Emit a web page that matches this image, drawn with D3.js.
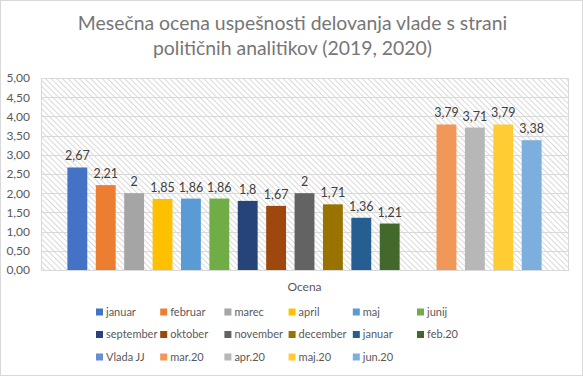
<!DOCTYPE html>
<html lang="sl">
<head>
<meta charset="UTF-8" />
<title>Mesečna ocena</title>
<script src="https://d3js.org/d3.v7.min.js"></script>
<style>
  body { margin: 0; background: #fff; }
  #chart { width: 583px; height: 376px; }
  text { font-family: Lato, "Open Sans", sans-serif; }
</style>
</head>
<body>
<div id="chart"></div>
<script>
// podatki
const seriesNames = ["januar", "februar", "marec", "april", "maj", "junij",
  "september", "oktober", "november", "december", "januar ", "feb.20",
  "Vlada JJ", "mar.20", "apr.20", "maj.20", "jun.20"];
const seriesValues = [2.67, 2.21, 2, 1.85, 1.86, 1.86, 1.8, 1.67, 2, 1.71, 1.36, 1.21,
  null, 3.79, 3.71, 3.79, 3.38];
const seriesColors = ["#4472C4", "#ED7D31", "#A5A5A5", "#FFC000", "#5B9BD5", "#70AD47",
  "#264478", "#9E480E", "#636363", "#997300", "#255E91", "#43682B",
  "#698ED0", "#F1975A", "#B7B7B7", "#FFCD33", "#7CAFDD"];
const yTicks = [0, 0.5, 1, 1.5, 2, 2.5, 3, 3.5, 4, 4.5, 5];
const categoryLabel = "Ocena";
const titleLines = ["Mesečna ocena uspešnosti delovanja vlade s strani",
  "političnih analitikov (2019, 2020)"];

const W = 583, H = 376;
const plot = { left: 41, right: 568, top: 78, bottom: 270 };

const svg = d3.select("#chart").append("svg")
  .attr("width", W).attr("height", H);

// šrafura ozadja
const defs = svg.append("defs");
const pat = defs.append("pattern")
  .attr("id", "hatch")
  .attr("patternUnits", "userSpaceOnUse")
  .attr("width", 4).attr("height", 4)
  .attr("patternTransform", "rotate(-45)");
pat.append("line")
  .attr("x1", 0).attr("y1", 0).attr("x2", 0).attr("y2", 4)
  .attr("stroke", "#c4c4c4").attr("stroke-width", 1.3);

// okvir grafa
svg.append("rect")
  .attr("x", 0.5).attr("y", 0.5).attr("width", W - 1).attr("height", H - 1)
  .attr("fill", "#fff").attr("stroke", "#d9d9d9");

svg.append("rect")
  .attr("x", plot.left + 0.5).attr("y", plot.top + 0.5)
  .attr("width", plot.right - plot.left).attr("height", plot.bottom - plot.top)
  .attr("fill", "url(#hatch)").attr("stroke", "#d9d9d9");

// naslov
svg.append("g").selectAll("text").data(titleLines).enter().append("text")
  .attr("x", 292.5)
  .attr("y", (d, i) => 30 + i * 25)
  .attr("text-anchor", "middle")
  .attr("fill", "#767676")
  .style("font-size", "19.4px")
  .text(d => d);

// skale
const y = d3.scaleLinear().domain([0, 5]).range([plot.bottom, plot.top]);
const x = d3.scaleBand().domain(seriesNames)
  .range([plot.left, plot.right])
  .paddingInner(0.3).paddingOuter(0.93);

// mreža
svg.append("g").selectAll("line").data(yTicks.slice(1)).enter().append("line")
  .attr("x1", plot.left).attr("x2", plot.right)
  .attr("y1", d => Math.round(y(d)) + 0.5).attr("y2", d => Math.round(y(d)) + 0.5)
  .attr("stroke", "#d9d9d9");

// os y
const yAxis = svg.append("g")
  .attr("transform", `translate(${plot.left},0)`)
  .call(d3.axisLeft(y).tickValues(yTicks).tickSize(0).tickPadding(11)
    .tickFormat(d => d3.format(".2f")(d).replace(".", ",")));
yAxis.select(".domain").remove();
yAxis.selectAll("text").attr("fill", "#595959").style("font-size", "12px");

// stolpci
const bars = seriesNames.map((n, i) => ({ name: n, value: seriesValues[i], color: seriesColors[i] }))
  .filter(d => d.value !== null);

svg.append("g").selectAll("rect").data(bars).enter().append("rect")
  .attr("x", d => x(d.name))
  .attr("y", d => y(d.value))
  .attr("width", x.bandwidth())
  .attr("height", d => y(0) - y(d.value))
  .attr("fill", d => d.color);

// oznake vrednosti
svg.append("g").selectAll("text").data(bars).enter().append("text")
  .attr("x", d => x(d.name) + x.bandwidth() / 2)
  .attr("y", d => y(d.value) - 7)
  .attr("text-anchor", "middle")
  .attr("fill", "#404040")
  .style("font-size", "12.5px")
  .text(d => String(d.value).replace(".", ","));

// os x (kategorija)
svg.append("text")
  .attr("x", (plot.left + plot.right) / 2)
  .attr("y", 291)
  .attr("text-anchor", "middle")
  .attr("fill", "#595959")
  .style("font-size", "12px")
  .text(categoryLabel);

// legenda
const legend = svg.append("g");
const item = legend.selectAll("g").data(seriesNames).enter().append("g")
  .attr("transform", (d, i) => `translate(${96 + (i % 6) * 64.2},${312 + Math.floor(i / 6) * 22.5})`);
item.append("rect")
  .attr("x", 0).attr("y", -3.5).attr("width", 7).attr("height", 7)
  .attr("fill", (d, i) => seriesColors[i]);
item.append("text")
  .attr("x", 10).attr("y", 0).attr("dy", "0.35em")
  .attr("fill", "#595959")
  .style("font-size", "11px")
  .text(d => d.trim());
</script>
</body>
</html>
